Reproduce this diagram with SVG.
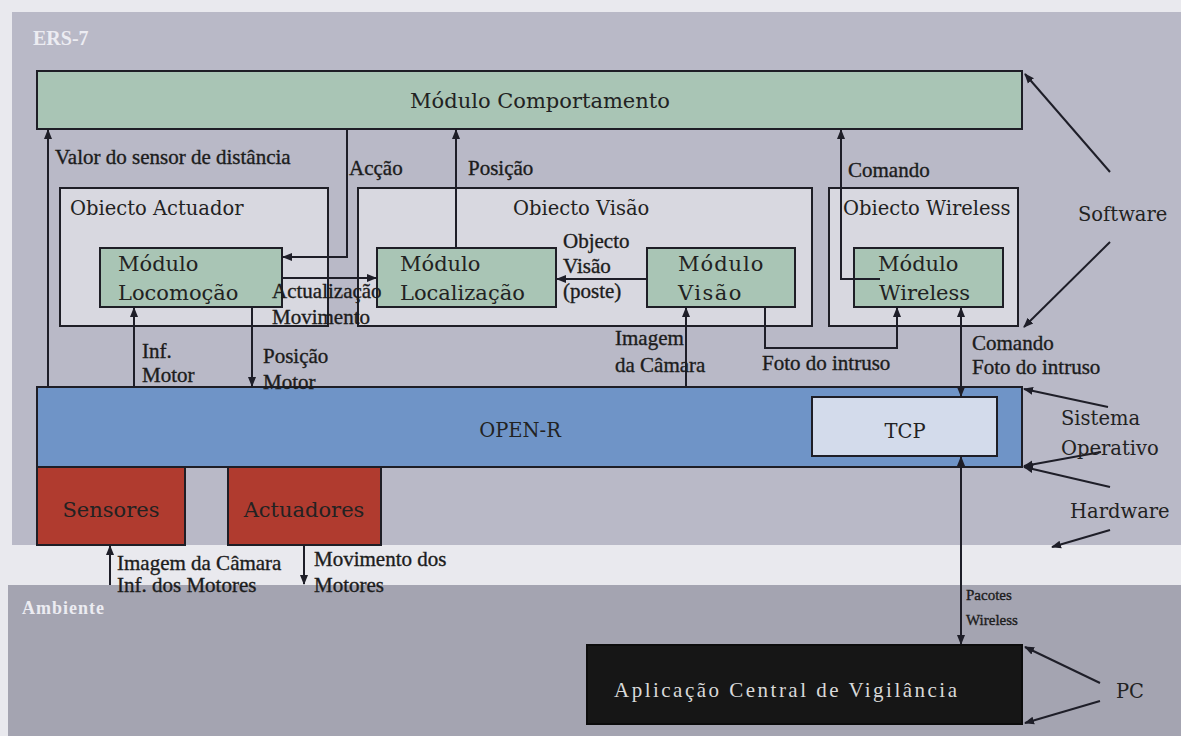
<svg xmlns="http://www.w3.org/2000/svg" width="1181" height="736" viewBox="0 0 1181 736">
  <defs>
    <marker id="arrow" markerUnits="userSpaceOnUse" markerWidth="10" markerHeight="10" viewBox="0 0 10 10" refX="9" refY="5" orient="auto-start-reverse">
      <path d="M0,1 L10,5 L0,9 Z" fill="#1e1e28"/>
    </marker>
    <style>
      .box { stroke: #1e1e26; stroke-width: 2; }
      .mod { fill: #a9c5b5; }
      .obj { fill: #d8d8e0; }
      .boxtxt { font-family: "DejaVu Serif", "Liberation Serif", serif; font-size: 19.5px; fill: #222; }
      .modtxt { font-family: "DejaVu Serif", "Liberation Serif", serif; font-size: 21px; fill: #222; }
      .lbl { font-family: "Liberation Serif", "DejaVu Serif", serif; font-size: 21px; fill: #1c1c1c; stroke: #1c1c1c; stroke-width: 0.35; }
      .small { font-size: 15px; }
      .conn { fill: none; stroke: #1e1e28; stroke-width: 2; }
      .panel { font-family: "Liberation Serif", serif; font-weight: bold; fill: #ececf2; }
    </style>
  </defs>

  <!-- page and layer panels -->
  <rect x="0" y="0" width="1181" height="736" fill="#e9e9ee"/>
  <rect x="12" y="12" width="1169" height="533" fill="#b9b9c7"/>
  <rect x="8" y="585" width="1173" height="151" fill="#a4a4b1"/>
  <text class="panel" x="33" y="45" font-size="20">ERS-7</text>
  <text class="panel" x="22" y="614" font-size="18" letter-spacing="1">Ambiente</text>

  <!-- behaviour module -->
  <g id="comportamento">
    <rect class="box mod" x="37" y="71" width="985" height="58"/>
    <text class="modtxt" x="540" y="108" text-anchor="middle">Módulo Comportamento</text>
  </g>

  <!-- actuator object -->
  <g id="obj-actuador">
    <rect class="box obj" x="60" y="188" width="268" height="138"/>
    <text class="boxtxt" x="70" y="215">Obiecto Actuador</text>
  </g>
  <g id="mod-locomocao">
    <rect class="box mod" x="100" y="248" width="182" height="59"/>
    <text class="modtxt" x="118" y="271">Módulo</text>
    <text class="modtxt" x="118" y="300">Locomoção</text>
  </g>

  <!-- vision object -->
  <g id="obj-visao">
    <rect class="box obj" x="358" y="188" width="454" height="138"/>
    <text class="boxtxt" x="513" y="215">Obiecto Visão</text>
  </g>
  <g id="mod-localizacao">
    <rect class="box mod" x="377" y="248" width="179" height="59"/>
    <text class="modtxt" x="400" y="271">Módulo</text>
    <text class="modtxt" x="400" y="300">Localização</text>
  </g>
  <g id="mod-visao">
    <rect class="box mod" x="647" y="248" width="148" height="59"/>
    <text class="modtxt" x="678" y="271" letter-spacing="1">Módulo</text>
    <text class="modtxt" x="678" y="300" letter-spacing="1.5">Visão</text>
  </g>

  <!-- wireless object -->
  <g id="obj-wireless">
    <rect class="box obj" x="829" y="188" width="189" height="138"/>
    <text class="boxtxt" x="843" y="215">Obiecto Wireless</text>
  </g>
  <g id="mod-wireless">
    <rect class="box mod" x="854" y="248" width="149" height="59"/>
    <text class="modtxt" x="878" y="271">Módulo</text>
    <text class="modtxt" x="879" y="300">Wireless</text>
  </g>

  <!-- operating system -->
  <g id="open-r">
    <rect class="box" x="37" y="387" width="985" height="80" fill="#6f94c7"/>
    <text class="boxtxt" x="520" y="437" text-anchor="middle" fill="#1a1a22">OPEN-R</text>
  </g>
  <g id="tcp">
    <rect class="box" x="812" y="397" width="185" height="59" fill="#d3dbeb"/>
    <text class="boxtxt" x="905" y="438" text-anchor="middle">TCP</text>
  </g>

  <!-- hardware -->
  <g id="sensores">
    <rect class="box" x="37" y="467" width="148" height="78" fill="#b03b2f"/>
    <text class="modtxt" x="111" y="517" text-anchor="middle" font-size="20" fill="#3a1512">Sensores</text>
  </g>
  <g id="actuadores">
    <rect class="box" x="228" y="467" width="153" height="78" fill="#b03b2f"/>
    <text class="modtxt" x="304" y="517" text-anchor="middle" font-size="20" fill="#3a1512">Actuadores</text>
  </g>

  <!-- PC application -->
  <g id="aplicacao">
    <rect x="587" y="645" width="435" height="79" fill="#161616" stroke="#0c0c0c" stroke-width="2"/>
    <text x="614" y="697" font-family="Liberation Serif, serif" font-size="21" fill="#d9d9d9" textLength="343" lengthAdjust="spacing">Aplicação Central de Vigilância</text>
  </g>

  <!-- connectors -->
  <g id="connectors" class="conn" marker-end="url(#arrow)">
    <path d="M48,387 V130"/>
    <path d="M347,130 V257 H283"/>
    <path d="M282,278 H376"/>
    <path d="M456,248 V130"/>
    <path d="M647,279 H557"/>
    <path d="M880,279 H841 V130"/>
    <path d="M134,387 V308"/>
    <path d="M252,307 V386"/>
    <path d="M686,387 V308"/>
    <path d="M765,307 V348 H897 V308"/>
    <path d="M961,308 V396" marker-start="url(#arrow)"/>
    <path d="M961,457 V644" marker-start="url(#arrow)"/>
    <path d="M110,585 V546"/>
    <path d="M304,546 V584"/>
    <!-- layer pointers -->
    <path d="M1110,172 L1025,74"/>
    <path d="M1110,242 L1024,327"/>
    <path d="M1108,407 L1024,389"/>
    <path d="M1101,452 L1024,466"/>
    <path d="M1110,487 L1024,467"/>
    <path d="M1110,530 L1052,547"/>
    <path d="M1100,683 L1025,647"/>
    <path d="M1100,701 L1025,723"/>
  </g>

  <!-- connector and layer labels -->
  <g id="labels">
    <text class="lbl" x="55" y="164">Valor do sensor de distância</text>
    <text class="lbl" x="349" y="175">Acção</text>
    <text class="lbl" x="468" y="175">Posição</text>
    <text class="lbl" x="848" y="177">Comando</text>
    <text class="lbl" x="563" y="248" font-size="19">Objecto</text>
    <text class="lbl" x="563" y="273" font-size="19">Visão</text>
    <text class="lbl" x="563" y="298" font-size="19">(poste)</text>
    <text class="lbl" x="272" y="298">Actualização</text>
    <text class="lbl" x="272" y="324">Movimento</text>
    <text class="lbl" x="142" y="358">Inf.</text>
    <text class="lbl" x="142" y="382">Motor</text>
    <text class="lbl" x="263" y="363">Posição</text>
    <text class="lbl" x="263" y="389">Motor</text>
    <text class="lbl" x="615" y="345">Imagem</text>
    <text class="lbl" x="615" y="372">da Câmara</text>
    <text class="lbl" x="762" y="370">Foto do intruso</text>
    <text class="lbl" x="972" y="350" font-size="19">Comando</text>
    <text class="lbl" x="972" y="374" font-size="19">Foto do intruso</text>
    <text class="lbl" x="117" y="570">Imagem da Câmara</text>
    <text class="lbl" x="117" y="592">Inf. dos Motores</text>
    <text class="lbl" x="314" y="566">Movimento dos</text>
    <text class="lbl" x="314" y="592">Motores</text>
    <text class="lbl small" x="966" y="600">Pacotes</text>
    <text class="lbl small" x="966" y="625">Wireless</text>
    <text class="boxtxt" x="1078" y="221">Software</text>
    <text class="boxtxt" x="1061" y="425">Sistema</text>
    <text class="boxtxt" x="1061" y="455">Operativo</text>
    <text class="boxtxt" x="1070" y="518">Hardware</text>
    <text class="boxtxt" x="1116" y="698">PC</text>
  </g>
</svg>
